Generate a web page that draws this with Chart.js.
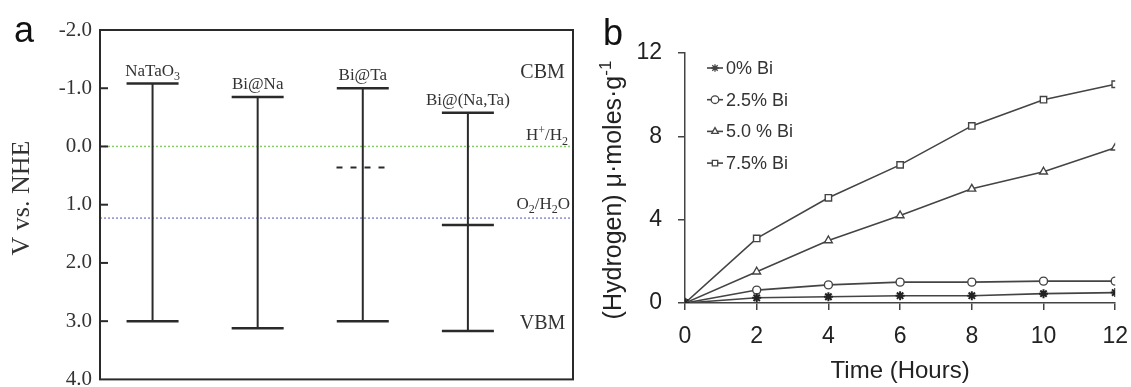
<!DOCTYPE html>
<html><head><meta charset="utf-8">
<script src="https://cdn.jsdelivr.net/npm/chart.js@4.4.1/dist/chart.umd.min.js"></script>
<style>
html,body{margin:0;padding:0;background:#fff;overflow:hidden;width:1131px;height:387px;}
#ca{position:absolute;left:0;top:0;}
#cb{position:absolute;left:580px;top:0;}
</style></head><body>
<canvas id="ca" width="580" height="400"></canvas>
<canvas id="cb" width="561" height="387"></canvas>
<script>
// ---------- Panel a data ----------
const materials = ['NaTaO_3', 'Bi@Na', 'Bi@Ta', 'Bi@(Na,Ta)'];
const cbmLevels = [-1.08, -0.85, -1.0, -0.58];
const vbmLevels = [3.0, 3.12, 3.0, 3.17];
const midLevels = [null, null, null, 1.35];
const dashLevels = [null, null, 0.36, null];
const redoxLevels = [0.0, 1.23];
const redoxNames = ['H^+/H_2', 'O_2/H_2O'];
const edgeNames = ['CBM', 'VBM'];
const edgeLevels = [-1.17, 3.13];
const potentialTicks = [-2, -1, 0, 1, 2, 3, 4];

// ---------- Panel b data ----------
const hours = [0, 2, 4, 6, 8, 10, 12];
const seriesNames = ['0% Bi', '2.5% Bi', '5.0 % Bi', '7.5% Bi'];
const bi00 = [0, 0.25, 0.30, 0.35, 0.35, 0.45, 0.50];
const bi25 = [0, 0.62, 0.87, 1.00, 1.00, 1.05, 1.05];
const bi50 = [0, 1.50, 3.00, 4.20, 5.48, 6.30, 7.45];
const bi75 = [0, 3.10, 5.05, 6.63, 8.50, 9.76, 10.50];
const hourTicks = [0, 2, 4, 6, 8, 10, 12];
const hydrogenTicks = [0, 4, 8, 12];

const serif = "'Liberation Serif','Times New Roman',serif";
const sans = "'Liberation Sans',Arial,sans-serif";
const ink = '#2a2a2a';
const textInk = '#333';

// rich text: X_y subscript one char, X^y superscript one char, _{..} / ^{..} groups
function parseRich(s) {
  const segs = []; let buf = ''; let i = 0;
  while (i < s.length) {
    const c = s[i];
    if (c === '_' || c === '^') {
      if (buf) { segs.push([buf, 0]); buf = ''; }
      const mode = c === '_' ? 1 : 2;
      if (s[i + 1] === '{') { const j = s.indexOf('}', i); segs.push([s.slice(i + 2, j), mode]); i = j + 1; }
      else { segs.push([s[i + 1], mode]); i += 2; }
    } else { buf += c; i++; }
  }
  if (buf) segs.push([buf, 0]);
  return segs;
}
function drawRich(ctx, s, x, y, size, family, align, color) {
  const segs = parseRich(s);
  const fontOf = m => (m === 0 ? size : Math.round(size * 0.68)) + 'px ' + family;
  let total = 0;
  segs.forEach(([t, m]) => { ctx.font = fontOf(m); total += ctx.measureText(t).width; });
  let cx = align === 'center' ? x - total / 2 : align === 'right' ? x - total : x;
  ctx.fillStyle = color; ctx.textAlign = 'left'; ctx.textBaseline = 'alphabetic';
  segs.forEach(([t, m]) => {
    ctx.font = fontOf(m);
    const dy = m === 1 ? size * 0.25 : m === 2 ? -size * 0.4 : 0;
    ctx.fillText(t, cx, y + dy);
    cx += ctx.measureText(t).width;
  });
}

// ---------- Panel a ----------
const aDatasets = [];
materials.forEach((m, i) => {
  const pts = [{x: i + 0.5, y: cbmLevels[i]}];
  if (midLevels[i] !== null) pts.push({x: i + 0.5, y: midLevels[i]});
  pts.push({x: i + 0.5, y: vbmLevels[i]});
  aDatasets.push({label: m, data: pts, showLine: true, borderColor: ink, borderWidth: 2,
    pointStyle: 'line', pointRadius: 26, pointHoverRadius: 26, pointBorderWidth: 2.5,
    pointBorderColor: ink, pointBackgroundColor: ink});
});
dashLevels.forEach((v, i) => {
  if (v === null) return;
  aDatasets.push({label: 'dash', data: [{x: i + 0.25, y: v}, {x: i + 0.74, y: v}], showLine: true,
    borderColor: ink, borderWidth: 2, borderDash: [6, 8], pointRadius: 0});
});
const redoxColors = ['#86cc66', '#8c8cd2'];
redoxLevels.forEach((v, i) => {
  aDatasets.push({label: redoxNames[i], data: [{x: 0, y: v}, {x: 4.5, y: v}], showLine: true,
    borderColor: redoxColors[i], borderWidth: 1.5, borderDash: [2, 2], pointRadius: 0});
});

const panelA = {
  id: 'panelA',
  afterDatasetsDraw(chart) {
    const {ctx, chartArea: a, scales: {x, y}} = chart;
    ctx.save();
    materials.forEach((m, i) => {
      drawRich(ctx, m, x.getPixelForValue(i + 0.5), y.getPixelForValue(cbmLevels[i]) - 8, 17, serif, 'center', textInk);
    });
    edgeNames.forEach((n, i) => {
      drawRich(ctx, n, x.getPixelForValue(4.21), y.getPixelForValue(edgeLevels[i]), 20, serif, 'center', textInk);
    });
    drawRich(ctx, redoxNames[0], a.right - 5, y.getPixelForValue(redoxLevels[0]) - 6, 17, serif, 'right', textInk);
    drawRich(ctx, redoxNames[1], a.right - 3, y.getPixelForValue(redoxLevels[1]) - 9, 17, serif, 'right', textInk);
    ctx.restore();
  },
  afterDraw(chart) {
    const {ctx, chartArea: a, scales: {y}} = chart;
    ctx.save();
    ctx.strokeStyle = ink; ctx.lineWidth = 2;
    ctx.strokeRect(a.left, a.top, a.right - a.left, a.bottom - a.top);
    y.ticks.forEach(t => {
      const py = y.getPixelForValue(t.value);
      if (py <= a.top + 1 || py >= a.bottom - 1) return;
      ctx.beginPath(); ctx.moveTo(a.left, py); ctx.lineTo(a.left + 8, py); ctx.stroke();
    });
    ctx.translate(22, 198); ctx.rotate(-Math.PI / 2);
    ctx.font = '26px ' + serif; ctx.fillStyle = textInk; ctx.textAlign = 'center'; ctx.textBaseline = 'middle';
    ctx.fillText('V vs. NHE', 0, 0);
    ctx.restore();
    ctx.save();
    ctx.font = '36px ' + sans; ctx.fillStyle = '#111'; ctx.textAlign = 'left'; ctx.textBaseline = 'alphabetic';
    ctx.fillText('a', 14, 42);
    ctx.restore();
  }
};

new Chart(document.getElementById('ca'), {
  type: 'scatter',
  data: {datasets: aDatasets},
  options: {
    responsive: false, animation: false, events: [],
    layout: {autoPadding: false, padding: {left: 0, top: 30, right: 7, bottom: 18}},
    plugins: {legend: {display: false}, tooltip: {enabled: false}},
    scales: {
      x: {type: 'linear', min: 0, max: 4.5, display: false, ticks: {display: false}},
      y: {type: 'linear', min: -2, max: 4, reverse: true,
        afterFit: s => { s.width = 100; },
        afterBuildTicks: s => { s.ticks = potentialTicks.map(v => ({value: v})); },
        grid: {display: false, drawTicks: false}, border: {display: false},
        ticks: {padding: 8, color: textInk, font: {family: serif, size: 21}, callback: v => Number(v).toFixed(1)}}
    }
  },
  plugins: [panelA]
});

// ---------- Panel b ----------
const seriesValues = [bi00, bi25, bi50, bi75];
const seriesStyles = ['star', 'circle', 'triangle', 'rect'];
const seriesRadius = [4.5, 4, 4.5, 4.5];
const lineInk = '#444';
const bDatasets = seriesValues.map((vals, i) => ({
  label: seriesNames[i],
  data: hours.map((h, k) => ({x: h, y: vals[k]})),
  showLine: true, borderColor: lineInk, borderWidth: 1.6,
  pointStyle: seriesStyles[i], pointRadius: seriesRadius[i], pointBorderWidth: i === 0 ? 2 : 1.4,
  pointBorderColor: i === 0 ? '#222' : lineInk, pointBackgroundColor: '#fff'
}));

const panelB = {
  id: 'panelB',
  afterDraw(chart) {
    const {ctx} = chart;
    ctx.save();
    chart.data.datasets.forEach((ds, i) => {
      const yy = 68 + i * 31.7;
      ctx.strokeStyle = lineInk; ctx.lineWidth = 1.6;
      ctx.beginPath(); ctx.moveTo(127, yy); ctx.lineTo(143, yy); ctx.stroke();
      ctx.fillStyle = '#fff'; ctx.strokeStyle = lineInk; ctx.lineWidth = 1.3;
      if (Chart.helpers && Chart.helpers.drawPoint) {
        Chart.helpers.drawPoint(ctx, {pointStyle: ds.pointStyle, radius: 3.8, borderWidth: 1.3, rotation: 0}, 135, yy);
      }
      ctx.font = '18px ' + sans; ctx.fillStyle = '#333'; ctx.textAlign = 'left'; ctx.textBaseline = 'middle';
      ctx.fillText(ds.label, 146, yy + 1);
    });
    ctx.save();
    ctx.translate(33, 190); ctx.rotate(-Math.PI / 2);
    drawRich(ctx, '(Hydrogen) μ·moles·g^{-1}', 0, 8, 25, sans, 'center', '#222');
    ctx.restore();
    ctx.font = '36px ' + sans; ctx.fillStyle = '#111'; ctx.textAlign = 'left'; ctx.textBaseline = 'alphabetic';
    ctx.fillText('b', 23, 45);
    ctx.restore();
  }
};

new Chart(document.getElementById('cb'), {
  type: 'scatter',
  data: {datasets: bDatasets},
  options: {
    responsive: false, animation: false, events: [],
    layout: {padding: {left: 0, top: 53, right: 24, bottom: 0}},
    plugins: {legend: {display: false}, tooltip: {enabled: false}},
    scales: {
      x: {type: 'linear', min: 0, max: 12,
        afterFit: s => { s.height = 84; },
        afterBuildTicks: s => { s.ticks = hourTicks.map(v => ({value: v})); },
        grid: {display: true, drawOnChartArea: false, tickLength: 7, color: lineInk, lineWidth: 1.5},
        border: {display: true, color: lineInk, width: 1.5},
        ticks: {padding: 13, color: '#222', font: {family: sans, size: 23}},
        title: {display: true, text: 'Time (Hours)', color: '#222', font: {family: sans, size: 24}, padding: {top: 0, bottom: 1}}},
      y: {type: 'linear', min: 0, max: 12,
        afterFit: s => { s.width = 105; },
        afterBuildTicks: s => { s.ticks = hydrogenTicks.map(v => ({value: v})); },
        grid: {display: true, drawOnChartArea: false, tickLength: 7, color: lineInk, lineWidth: 1.5},
        border: {display: true, color: lineInk, width: 1.5},
        ticks: {padding: 16, color: '#222', font: {family: sans, size: 23}}}
    }
  },
  plugins: [panelB]
});
</script>
</body></html>
